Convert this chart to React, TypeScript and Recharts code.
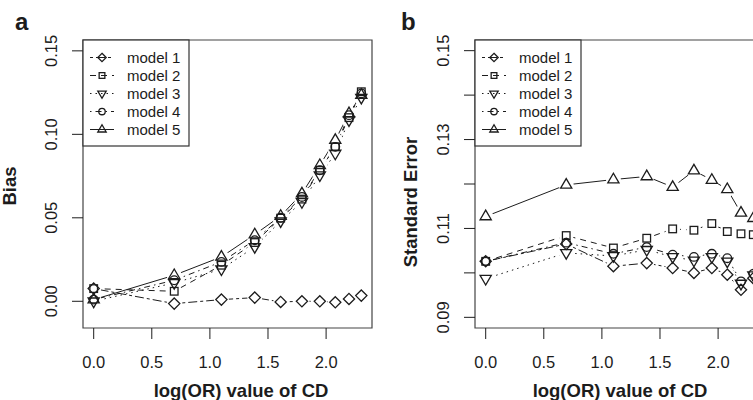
import { LineChart, Line, XAxis, YAxis, ReferenceArea } from "recharts";

// log(OR) values of CD: log(1) .. log(10)
const logOR = [0, 0.693, 1.099, 1.386, 1.609, 1.792, 1.946, 2.079, 2.197, 2.303];
const modelNames = ["model 1", "model 2", "model 3", "model 4", "model 5"];

// panel a: bias
const biasModel1 = [0.0076, -0.0014, 0.001, 0.0022, -0.0004, 0.0, 0.0, -0.0006, 0.0014, 0.0034];
const biasModel2 = [0.0076, 0.006, 0.0216, 0.0352, 0.0498, 0.0612, 0.0785, 0.0925, 0.11, 0.1255];
const biasModel3 = [0.0, 0.011, 0.0192, 0.0326, 0.048, 0.0595, 0.0755, 0.0885, 0.1085, 0.122];
const biasModel4 = [0.001, 0.0126, 0.0236, 0.0366, 0.05, 0.0625, 0.0785, 0.0925, 0.1115, 0.1245];
const biasModel5 = [0.001, 0.0156, 0.0266, 0.04, 0.0511, 0.0645, 0.0815, 0.0965, 0.1125, 0.1235];

// panel b: standard error
const seModel1 = [0.1026, 0.1065, 0.1015, 0.1022, 0.1011, 0.1, 0.1011, 0.0996, 0.0962, 0.0988];
const seModel2 = [0.1026, 0.1084, 0.1056, 0.1078, 0.1099, 0.1096, 0.1111, 0.1093, 0.1088, 0.1086];
const seModel3 = [0.0987, 0.1045, 0.1038, 0.1052, 0.1036, 0.1028, 0.1036, 0.1026, 0.0976, 0.0995];
const seModel4 = [0.1026, 0.1068, 0.1043, 0.1058, 0.1041, 0.1036, 0.1043, 0.1033, 0.0981, 0.0998];
const seModel5 = [0.1127, 0.1198, 0.121, 0.1217, 0.1193, 0.123, 0.1209, 0.1188, 0.1135, 0.1123];

const xTicks = [0, 0.5, 1, 1.5, 2];
const xTickLabels = ["0.0", "0.5", "1.0", "1.5", "2.0"];
const biasTicks = [0, 0.05, 0.1, 0.15];
const biasTickLabels = ["0.00", "0.05", "0.10", "0.15"];
const seTicks = [0.09, 0.1, 0.11, 0.12, 0.13, 0.14, 0.15];
const seTickLabels = ["0.09", "", "0.11", "", "0.13", "", "0.15"];

const ink = "#1c1c1c";
const font = "'Liberation Sans', Arial, Helvetica, sans-serif";
const xDomain = [-0.092, 2.395];
const shapes = ["diamond", "square", "down", "circle", "up"];
const dashes = ["3 3 9 3", "6 5", "1.5 4", "1.5 4 6 4", undefined];
const keys = ["m1", "m2", "m3", "m4", "m5"];

function Marker({ shape, cx, cy, scale = 1 }: any) {
  const p = { fill: "none", stroke: ink, strokeWidth: 1.3 };
  if (shape === "diamond") {
    const r = 5.6 * scale;
    return <polygon {...p} points={`${cx},${cy - r} ${cx + r},${cy} ${cx},${cy + r} ${cx - r},${cy}`} />;
  }
  if (shape === "square") {
    const h = 3.8 * scale;
    return <rect {...p} x={cx - h} y={cy - h} width={2 * h} height={2 * h} />;
  }
  if (shape === "circle") return <circle {...p} cx={cx} cy={cy} r={4.3 * scale} />;
  const w = 5.6 * scale;
  const a = 3.3 * scale;
  const b = 6.3 * scale;
  if (shape === "up")
    return <polygon {...p} points={`${cx - w},${cy + a} ${cx + w},${cy + a} ${cx},${cy - b}`} />;
  return <polygon {...p} points={`${cx - w},${cy - a} ${cx + w},${cy - a} ${cx},${cy + b}`} />;
}

function Panel({ series, yDomain, yTicks, yTickLabels, left, width, yAxisWidth, right }: any) {
  const rows = logOR.map((x, i) => ({
    x,
    m1: series[0][i],
    m2: series[1][i],
    m3: series[2][i],
    m4: series[3][i],
    m5: series[4][i],
  }));

  return (
    <div style={{ position: "absolute", left, top: 0 }}>
      <LineChart width={width} height={400} data={rows} margin={{ top: 40, right, bottom: 0, left: 0 }}>
        <XAxis
          type="number"
          dataKey="x"
          domain={xDomain}
          ticks={xTicks}
          allowDataOverflow
          height={72}
          axisLine={false}
          stroke={ink}
          tickSize={11}
          tickMargin={29}
          tick={(p: any) => (
            <text x={p.x} y={p.y} textAnchor="middle" fontSize={16.5} fontFamily={font} fill={ink}>
              {xTickLabels[xTicks.indexOf(p.payload.value)]}
            </text>
          )}
        />
        <YAxis
          type="number"
          domain={yDomain}
          ticks={yTicks}
          allowDataOverflow
          width={yAxisWidth}
          axisLine={false}
          stroke={ink}
          tickSize={11}
          tickMargin={15}
          tick={(p: any) => (
            <text
              x={p.x}
              y={p.y}
              transform={`rotate(-90 ${p.x} ${p.y})`}
              textAnchor="middle"
              fontSize={16.5}
              fontFamily={font}
              fill={ink}
            >
              {yTickLabels[yTicks.indexOf(p.payload.value)]}
            </text>
          )}
        />
        <ReferenceArea
          x1={xDomain[0]}
          x2={xDomain[1]}
          y1={yDomain[0]}
          y2={yDomain[1]}
          fill="none"
          stroke="#444"
          strokeWidth={1.2}
          ifOverflow="visible"
        />

        {/* connecting lines */}
        {keys.map((k, i) => (
          <Line
            key={`line-${k}`}
            type="linear"
            dataKey={k}
            stroke={ink}
            strokeWidth={1}
            strokeDasharray={dashes[i]}
            dot={false}
            activeDot={false}
            isAnimationActive={false}
          />
        ))}

        {/* white gaps round points, like type = "b" */}
        {keys.map((k) => (
          <Line
            key={`gap-${k}`}
            type="linear"
            dataKey={k}
            stroke="none"
            activeDot={false}
            isAnimationActive={false}
            dot={(p: any) => <circle key={`gap-${k}-${p.index}`} cx={p.cx} cy={p.cy} r={7.5} fill="#fff" />}
          />
        ))}

        {/* point symbols */}
        {keys.map((k, i) => (
          <Line
            key={`pt-${k}`}
            type="linear"
            dataKey={k}
            stroke="none"
            activeDot={false}
            isAnimationActive={false}
            dot={(p: any) => (
              <g key={`pt-${k}-${p.index}`}>
                <Marker shape={shapes[i]} cx={p.cx} cy={p.cy} />
              </g>
            )}
          />
        ))}
      </LineChart>
    </div>
  );
}

function LegendBox({ left }: { left: number }) {
  const top = 40;
  return (
    <g>
      <rect x={left} y={top} width={106} height={106} fill="#fff" stroke="#333" strokeWidth={1.2} />
      {modelNames.map((name, i) => {
        const cy = top + 17.5 + i * 18;
        const sx = left + 19;
        return (
          <g key={name}>
            <line x1={sx - 12} x2={sx + 12} y1={cy} y2={cy} stroke={ink} strokeDasharray={dashes[i]} />
            <Marker shape={shapes[i]} cx={sx} cy={cy} scale={0.75} />
            <text x={left + 44} y={cy + 5.5} fontSize={15} fontFamily={font} fill={ink}>
              {name}
            </text>
          </g>
        );
      })}
    </g>
  );
}

export default function App() {
  return (
    <div
      style={{
        position: "fixed",
        left: 0,
        top: 0,
        width: 753,
        height: 400,
        overflow: "hidden",
        background: "#fff",
      }}
    >
      <Panel
        series={[biasModel1, biasModel2, biasModel3, biasModel4, biasModel5]}
        yDomain={[-0.016, 0.1565]}
        yTicks={biasTicks}
        yTickLabels={biasTickLabels}
        left={0}
        width={380}
        yAxisWidth={83}
        right={8}
      />
      <Panel
        series={[seModel1, seModel2, seModel3, seModel4, seModel5]}
        yDomain={[0.0876, 0.1524]}
        yTicks={seTicks}
        yTickLabels={seTickLabels}
        left={380}
        width={400}
        yAxisWidth={95}
        right={16}
      />

      <svg width={753} height={400} style={{ position: "absolute", left: 0, top: 0, pointerEvents: "none" }}>
        <g fontFamily={font} fill={ink} fontWeight="bold">
          <text x={15} y={30} fontSize={24}>a</text>
          <text x={401} y={30} fontSize={24}>b</text>
          <text x={15.5} y={186} fontSize={18.5} textAnchor="middle" transform="rotate(-90 15.5 186)">
            Bias
          </text>
          <text x={417} y={202} fontSize={18.5} textAnchor="middle" transform="rotate(-90 417 202)">
            Standard Error
          </text>
          <text x={241} y={397} fontSize={18.5} textAnchor="middle">log(OR) value of CD</text>
          <text x={620} y={397} fontSize={18.5} textAnchor="middle">log(OR) value of CD</text>
        </g>
        <LegendBox left={83} />
        <LegendBox left={475} />
      </svg>
    </div>
  );
}
